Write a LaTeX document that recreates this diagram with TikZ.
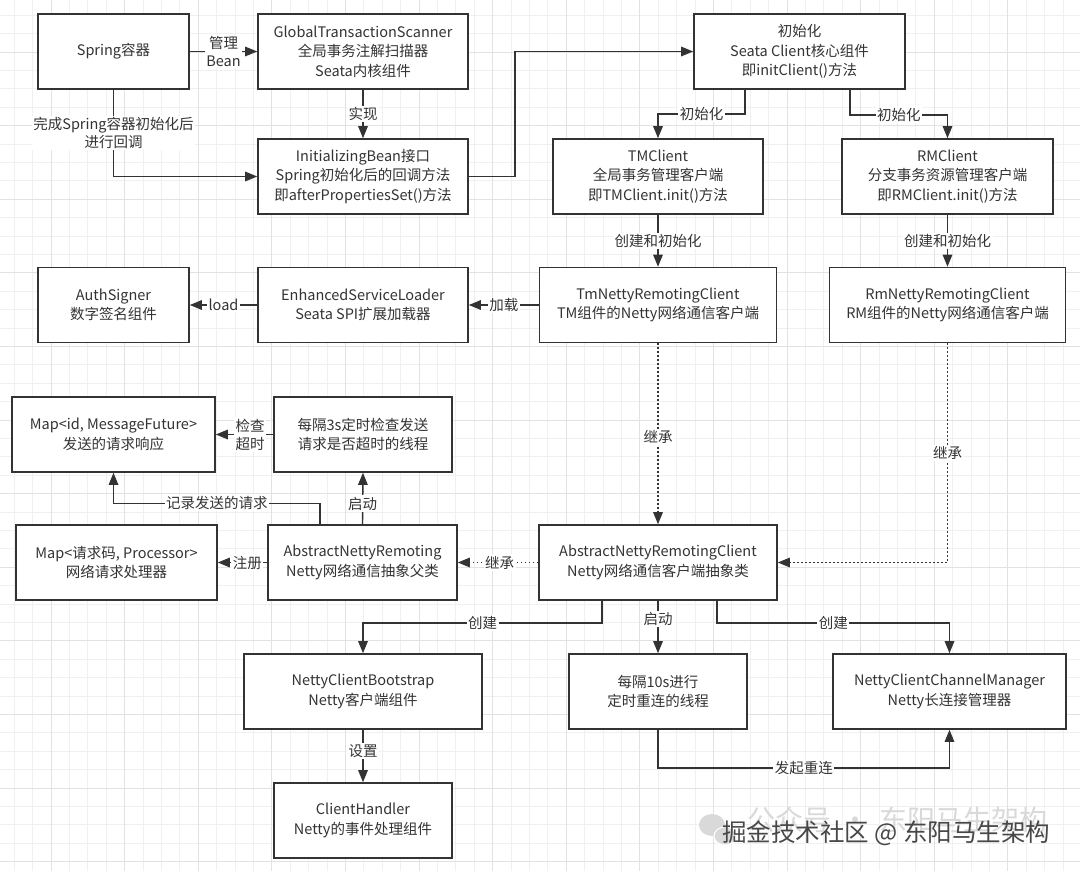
\documentclass[tikz,border=0pt]{standalone}
\usepackage{fontspec}
\setmainfont{Noto Sans CJK SC}
\usetikzlibrary{arrows.meta}
\definecolor{ink}{HTML}{333333}
\definecolor{gridmin}{HTML}{F0F0F0}
\definecolor{gridmaj}{HTML}{E2E2E2}
\definecolor{wmark}{HTML}{474747}
\begin{document}
\begin{tikzpicture}[x=1pt,y=-1pt,
  box/.style={draw=ink, line width=1.6pt, fill=white, text=ink, align=center, inner sep=2pt,
              minimum height=75pt, font=\fontsize{14.5}{19.5}\selectfont},
  conn/.style={draw=ink, line width=1.4pt, -{Triangle[length=12pt,width=9.5pt]}},
  dotconn/.style={conn, dash pattern=on 1.6pt off 2.4pt},
  lbl/.style={fill=white, text=ink, inner sep=1.5pt, align=center, font=\fontsize{14.5}{18}\selectfont},
  gminor/.style={draw=gridmin, line width=0.8pt},
  gmajor/.style={draw=gridmaj, line width=1pt},
]
\useasboundingbox (0,0) rectangle (1080,871);
\fill[white] (0,0) rectangle (1080,871);
% grid
\foreach \k in {0,...,58} {
  \pgfmathsetmacro\gx{14.2+18.4*\k}
  \draw[gminor] (\gx,0) -- (\gx,871);
}
\foreach \k in {0,...,47} {
  \pgfmathsetmacro\gy{15.2+18.4*\k}
  \draw[gminor] (0,\gy) -- (1080,\gy);
}
\foreach \k in {0,...,14} {
  \pgfmathsetmacro\gx{51+73.6*\k}
  \draw[gmajor] (\gx,0) -- (\gx,871);
}
\foreach \k in {0,...,11} {
  \pgfmathsetmacro\gy{52+73.6*\k}
  \draw[gmajor] (0,\gy) -- (1080,\gy);
}

% boxes
\node[box, minimum width=151pt] (spring) at (113.5,51.5) {Spring容器};
\node[box, minimum width=210pt] (gts) at (363,51.5) {GlobalTransactionScanner\\全局事务注解扫描器\\Seata内核组件};
\node[box, minimum width=210pt] (init) at (363,176.5) {InitializingBean接口\\Spring初始化后的回调方法\\即afterPropertiesSet()方法};
\node[box, minimum width=211pt] (ic) at (799.5,51.5) {初始化\\Seata Client核心组件\\即initClient()方法};
\node[box, minimum width=210pt] (tmc) at (658,176.5) {TMClient\\全局事务管理客户端\\即TMClient.init()方法};
\node[box, minimum width=211pt] (rmc) at (947.5,176.5) {RMClient\\分支事务资源管理客户端\\即RMClient.init()方法};
\node[box, minimum width=151pt] (auth) at (113.5,305) {AuthSigner\\数字签名组件};
\node[box, minimum width=210pt] (esl) at (363,305) {EnhancedServiceLoader\\Seata SPI扩展加载器};
\node[box, minimum width=237pt] (tmn) at (658,305) {TmNettyRemotingClient\\TM组件的Netty网络通信客户端};
\node[box, minimum width=236pt] (rmn) at (947.5,305) {RmNettyRemotingClient\\RM组件的Netty网络通信客户端};
\node[box, minimum width=203pt] (mapid) at (113.5,434.5) {Map<id, MessageFuture>\\发送的请求响应};
\node[box, minimum width=178pt] (chk) at (363,434.5) {每隔3s定时检查发送\\请求是否超时的线程};
\node[box, minimum width=201pt] (mapproc) at (116.5,562.5) {Map<请求码, Processor>\\网络请求处理器};
\node[box, minimum width=189pt] (anr) at (362.5,562.5) {AbstractNettyRemoting\\Netty网络通信抽象父类};
\node[box, minimum width=238pt] (anrc) at (658,562.5) {AbstractNettyRemotingClient\\Netty网络通信客户端抽象类};
\node[box, minimum width=238pt] (ncb) at (363,691.5) {NettyClientBootstrap\\Netty客户端组件};
\node[box, minimum width=178pt] (rc) at (658,691.5) {每隔10s进行\\定时重连的线程};
\node[box, minimum width=233pt] (nccm) at (949.5,691.5) {NettyClientChannelManager\\Netty长连接管理器};
\node[box, minimum width=178pt] (ch) at (363,820.5) {ClientHandler\\Netty的事件处理组件};

% connectors
\draw[conn] (spring.east) -- node[lbl]{管理\\Bean} (gts.west);
\draw[conn] (gts.south) -- node[lbl]{实现} (init.north);
\draw[conn] (spring.south) |- node[lbl,pos=.25]{完成Spring容器初始化后\\进行回调} (init.west);
\draw[conn] (init.east) -- ++(46,0) |- (ic.west);
\draw[conn] ([xshift=-54.5pt]ic.south) -- ++(0,24) -| node[lbl,pos=.25]{初始化} (tmc.north);
\draw[conn] ([xshift=50.5pt]ic.south) -- ++(0,25) -| node[lbl,pos=.25]{初始化} (rmc.north);
\draw[conn] (tmc.south) -- node[lbl]{创建和初始化} (tmn.north);
\draw[conn] (rmc.south) -- node[lbl]{创建和初始化} (rmn.north);
\draw[conn] (tmn.west) -- node[lbl]{加载} (esl.east);
\draw[conn] (esl.west) -- node[lbl]{load} (auth.east);
\draw[dotconn] (tmn.south) -- node[lbl,pos=.52]{继承} (anrc.north);
\draw[dotconn] (rmn.south) |- node[lbl,pos=.25]{继承} (anrc.east);
\draw[dotconn] (anrc.west) -- node[lbl,pos=.48]{继承} (anr.east);
\draw[conn] (anr.west) -- node[lbl,pos=.4]{注册} (mapproc.east);
\draw[conn] (anr.north) -- node[lbl,pos=.4]{启动} (chk.south);
\draw[conn] ([xshift=-42.5pt]anr.north) -- ++(0,-21) -| node[lbl,pos=.25]{记录发送的请求} (mapid.south);
\draw[conn] (chk.west) -- node[lbl,pos=.4]{检查\\超时} (mapid.east);
\draw[conn] ([xshift=-56pt]anrc.south) -- ++(0,22) -| node[lbl,pos=.25]{创建} (ncb.north);
\draw[conn] (anrc.south) -- node[lbl,pos=.35]{启动} (rc.north);
\draw[conn] ([xshift=59pt]anrc.south) -- ++(0,22) -| node[lbl,pos=.25]{创建} (nccm.north);
\draw[conn] (rc.south) -- ++(0,38) -| node[lbl,pos=.25]{发起重连} (nccm.south);
\draw[conn] (ncb.south) -- node[lbl,pos=.4]{设置} (ch.north);

% watermark
\fill[gray!30] (712,825) ellipse [x radius=13, y radius=11];
\fill[gray!30, draw=white, line width=1pt] (725,836) ellipse [x radius=11, y radius=9];
\node[anchor=west, text=gray!30, font=\fontsize{28}{30}\selectfont, inner sep=0pt] (wm1) at (747,820) {公众号\hspace{10pt}·\hspace{10pt}东阳马生架构};
\node[anchor=west, text=wmark, font=\fontsize{24.5}{26}\selectfont, inner sep=0pt] (wm2) at (722,833) {掘金技术社区 @ 东阳马生架构};
\end{tikzpicture}
\end{document}
